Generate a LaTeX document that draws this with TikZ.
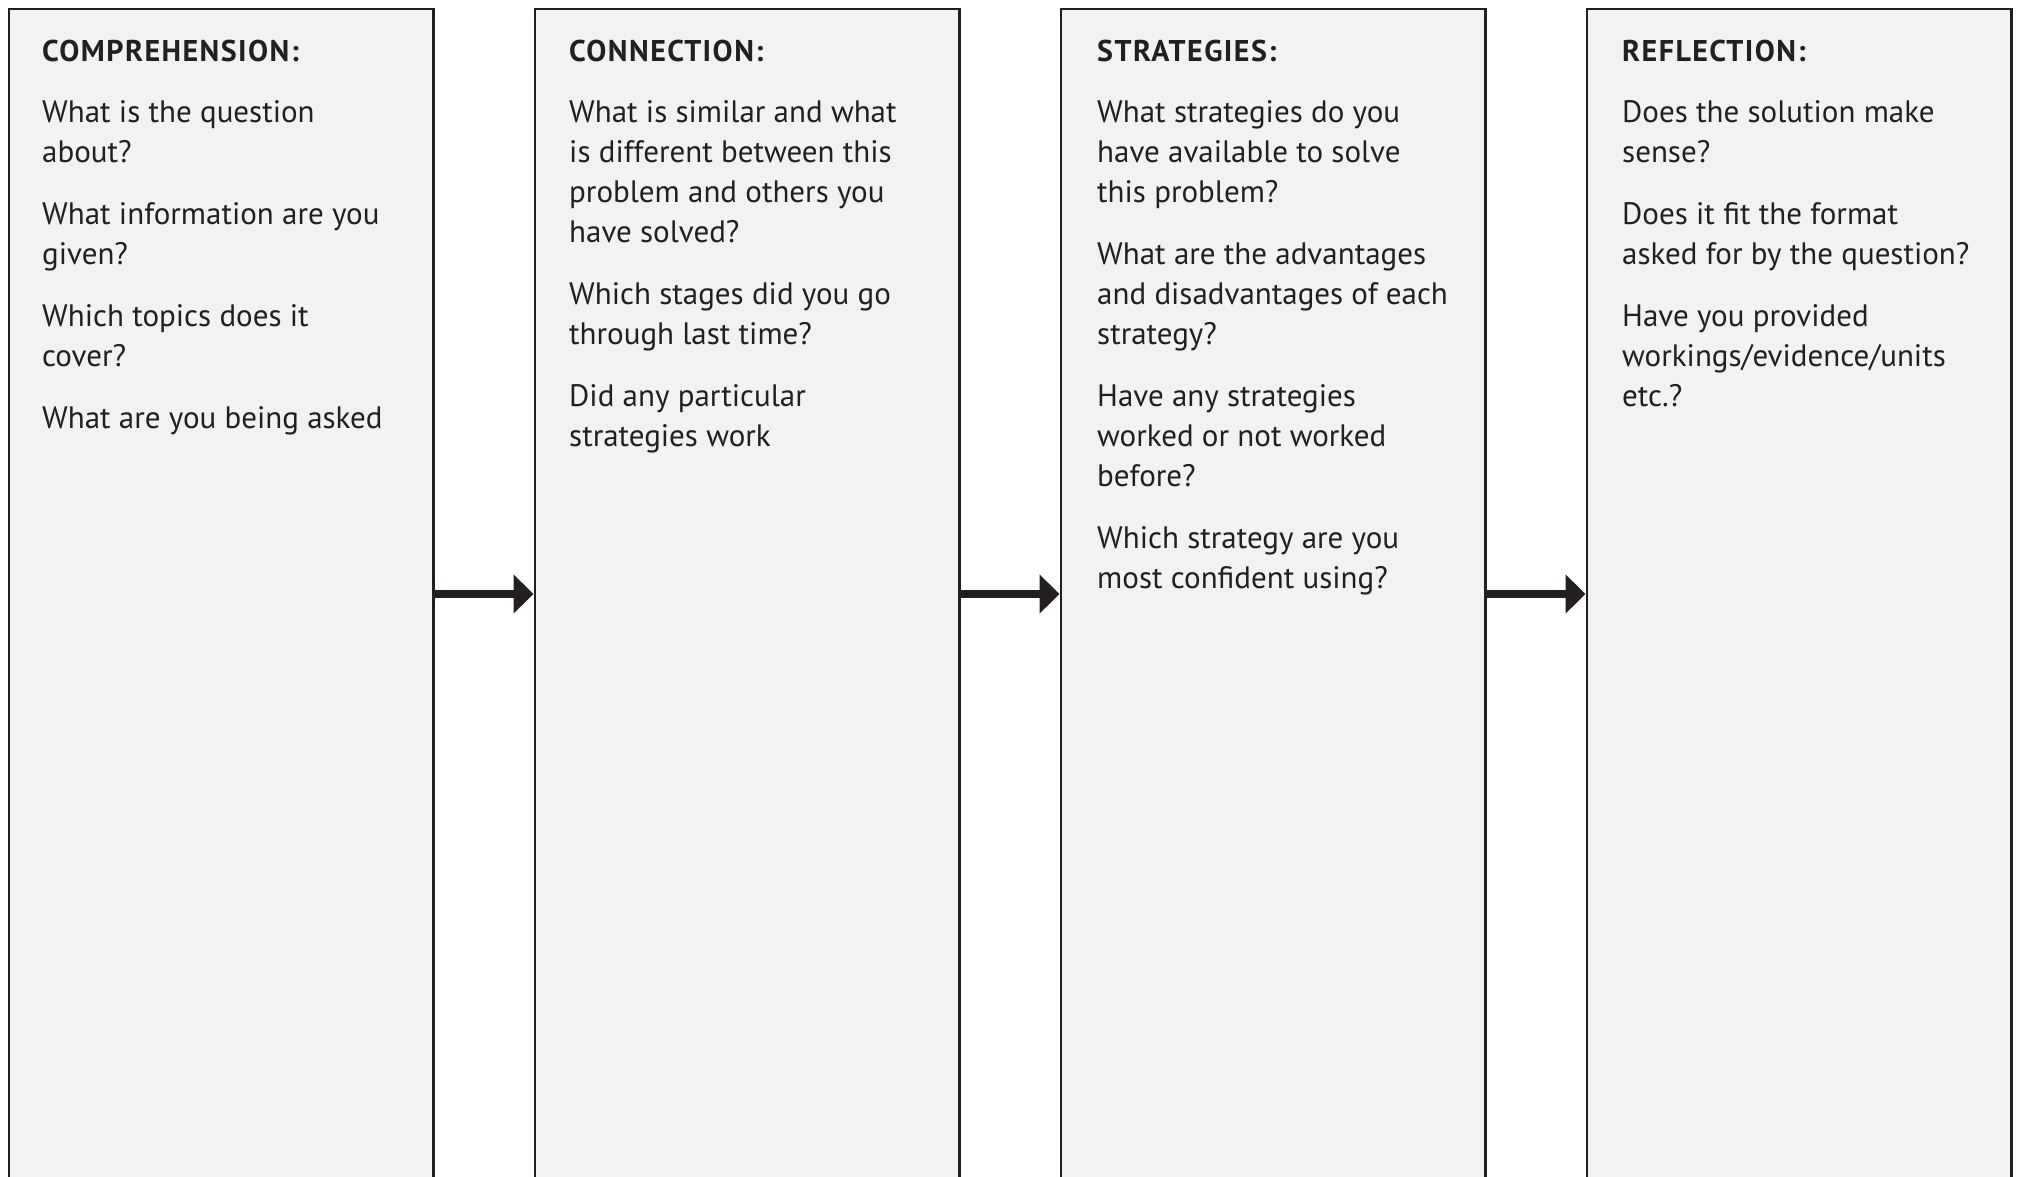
\documentclass[tikz,border=0pt]{standalone}
\usepackage{fontspec}
\setmainfont{PT Sans}
\usetikzlibrary{arrows.meta}
\definecolor{ink}{HTML}{231F20}
\definecolor{panel}{HTML}{F1F2F4}
\begin{document}
\begin{tikzpicture}[x=1pt,y=-1pt,
  panelbox/.style={draw=ink, fill=panel, line width=2.5pt, anchor=north west, inner sep=0pt,
    minimum width=424.5pt, minimum height=1300pt},
  head/.style={anchor=base west, inner sep=0pt, text=ink, font=\fontsize{30}{36}\selectfont\bfseries\addfontfeatures{LetterSpace=4.8}},
  body/.style={anchor=base west, inner sep=0pt, text=ink, font=\fontsize{31}{40}\selectfont},
  flow/.style={draw=ink, line width=8pt, -{Triangle[length=20pt,width=38pt]}}]
\useasboundingbox (0,0) rectangle (2017,1176);
\clip (0,0) rectangle (2017,1176);
\fill[white] (0,0) rectangle (2017,1176);
\node[panelbox] (p1) at (7.5,7.5) {};
\node[panelbox] (p2) at (533.5,7.5) {};
\node[panelbox] (p3) at (1059.5,7.5) {};
\node[panelbox] (p4) at (1585.5,7.5) {};
\draw[flow] (p1.east |- 0,594) -- (p2.west |- 0,594);
\draw[flow] (p2.east |- 0,594) -- (p3.west |- 0,594);
\draw[flow] (p3.east |- 0,594) -- (p4.west |- 0,594);
% panel 1
\node[head] (t1) at (42,61) {COMPREHENSION:};
\node[body] (a1) at (42,122) {What is the question};
\node[body] (a2) at (42,162) {about?};
\node[body] (a3) at (42,224) {What information are you};
\node[body] (a4) at (42,264) {given?};
\node[body] (a5) at (42,326) {Which topics does it};
\node[body] (a6) at (42,366) {cover?};
\node[body] (a7) at (42,428) {What are you being asked};
% panel 2
\node[head] (t2) at (569,61) {CONNECTION:};
\node[body] (b1) at (569,122) {What is similar and what};
\node[body] (b2) at (569,162) {is different between this};
\node[body] (b3) at (569,202) {problem and others you};
\node[body] (b4) at (569,242) {have solved?};
\node[body] (b5) at (569,304) {Which stages did you go};
\node[body] (b6) at (569,344) {through last time?};
\node[body] (b7) at (569,406) {Did any particular};
\node[body] (b8) at (569,446) {strategies work};
% panel 3
\node[head] (t3) at (1097,61) {STRATEGIES:};
\node[body] (c1) at (1097,122) {What strategies do you};
\node[body] (c2) at (1097,162) {have available to solve};
\node[body] (c3) at (1097,202) {this problem?};
\node[body] (c4) at (1097,264) {What are the advantages};
\node[body] (c5) at (1097,304) {and disadvantages of each};
\node[body] (c6) at (1097,344) {strategy?};
\node[body] (c7) at (1097,406) {Have any strategies};
\node[body] (c8) at (1097,446) {worked or not worked};
\node[body] (c9) at (1097,486) {before?};
\node[body] (c10) at (1097,548) {Which strategy are you};
\node[body] (c11) at (1097,588) {most confident using?};
% panel 4
\node[head] (t4) at (1622,61) {REFLECTION:};
\node[body] (d1) at (1622,122) {Does the solution make};
\node[body] (d2) at (1622,162) {sense?};
\node[body] (d3) at (1622,224) {Does it fit the format};
\node[body] (d4) at (1622,264) {asked for by the question?};
\node[body] (d5) at (1622,326) {Have you provided};
\node[body] (d6) at (1622,366) {workings/evidence/units};
\node[body] (d7) at (1622,406) {etc.?};
\end{tikzpicture}
\end{document}
